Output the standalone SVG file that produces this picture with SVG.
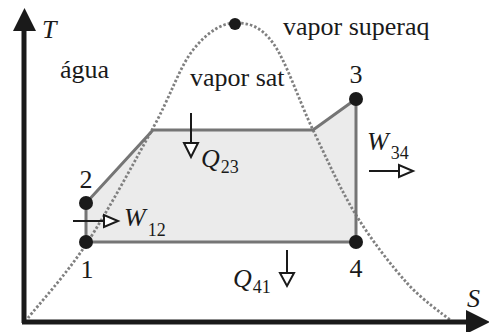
<svg xmlns="http://www.w3.org/2000/svg" width="489" height="332" viewBox="0 0 489 332">
<defs>
<style>
text{font-family:'Liberation Serif','Times New Roman',serif;font-size:26px;fill:#1a1a1a}
.i{font-style:italic}
.sub{font-size:18px;font-style:normal}
.ax{stroke:#1a1a1a;stroke-width:5;fill:none}
.axh{fill:#1a1a1a}
.proc{stroke:#757575;stroke-width:3;fill:none;stroke-linejoin:miter}
.dot{fill:#1a1a1a}
.ar{stroke:#1a1a1a;stroke-width:2;fill:none}
.arh{stroke:#1a1a1a;stroke-width:2;fill:#fff;stroke-linejoin:miter}
</style>
</defs>
<rect width="489" height="332" fill="#fff"/>
<!-- cycle area -->
<polygon points="86,242 86,203 153,130 313,130 356,99 356,242" fill="#ebebeb"/>
<!-- saturation dome -->
<path d="M28,318 C37.8,305.5 66.2,274.7 87,243 C107.8,211.3 135.3,160.2 153,128 C170.7,95.8 179.3,67.5 193,50 C206.7,32.5 221.7,23 235,23 C248.3,23 260,25.2 273,43 C286,60.8 299.2,101.3 313,130 C326.8,158.7 340.3,189.5 356,215 C371.7,240.5 391.3,265.5 407,283 C422.7,300.5 442.8,313.8 450,320" fill="none" stroke="#808080" stroke-width="2.8" stroke-dasharray="2.5 2"/>
<!-- axes -->
<g id="axes">
<line class="ax" x1="24" y1="323" x2="24" y2="28"/>
<polygon class="axh" points="13,31 36,31 24.5,8"/>
<line class="ax" x1="22" y1="322" x2="468" y2="322"/>
<polygon class="axh" points="466,310 466,334 490,322"/>
<text class="i" x="42" y="38">T</text>
<text class="i" x="467" y="307">S</text>
</g>
<!-- connectors: process lines -->
<g id="connectors">
<polyline class="proc" points="86,242 86,203 153,130 313,130 356,99"/>
<line class="proc" x1="356" y1="99" x2="356" y2="242"/>
<line class="proc" x1="356" y1="242" x2="86" y2="242"/>
</g>
<!-- region labels -->
<text x="60" y="78">água</text>
<text x="190" y="86">vapor sat</text>
<text x="283" y="35">vapor superaq</text>
<!-- nodes -->
<g id="peak"><circle class="dot" cx="235" cy="24" r="6"/></g>
<g id="p1"><circle class="dot" cx="86" cy="242" r="7"/><text x="87" y="278" text-anchor="middle">1</text></g>
<g id="p2"><circle class="dot" cx="86" cy="203" r="7"/><text x="86" y="188" text-anchor="middle">2</text></g>
<g id="p3"><circle class="dot" cx="356" cy="99" r="7"/><text x="356" y="83" text-anchor="middle">3</text></g>
<g id="p4"><circle class="dot" cx="356" cy="242" r="7"/><text x="356" y="277" text-anchor="middle">4</text></g>
<!-- energy arrows -->
<g id="W12">
<line class="ar" x1="73" y1="221" x2="104" y2="221"/>
<polygon class="arh" points="104,215 104,227 118,221"/>
<text class="i" x="124" y="226">W<tspan class="sub" dx="2" dy="10">12</tspan></text>
</g>
<g id="Q23">
<line class="ar" x1="191" y1="113" x2="191" y2="143"/>
<polygon class="arh" points="184,143 198,143 191,157"/>
<text class="i" x="201" y="167">Q<tspan class="sub" dx="1" dy="6">23</tspan></text>
</g>
<g id="W34">
<text class="i" x="367" y="150">W<tspan class="sub" dx="2" dy="9">34</tspan></text>
<line class="ar" x1="369" y1="171" x2="399" y2="171"/>
<polygon class="arh" points="399,165 399,177 413,171"/>
</g>
<g id="Q41">
<text class="i" x="233" y="287">Q<tspan class="sub" dx="1" dy="6">41</tspan></text>
<line class="ar" x1="287" y1="250" x2="287" y2="273"/>
<polygon class="arh" points="280,273 294,273 287,286"/>
</g>
</svg>
